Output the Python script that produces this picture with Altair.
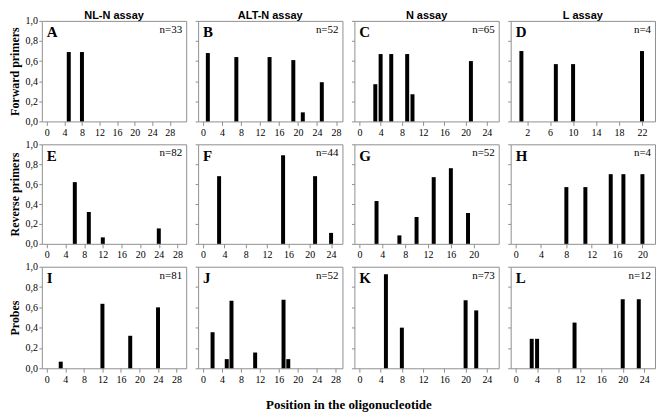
import altair as alt
import pandas as pd

assays = ["NL-N assay", "ALT-N assay", "N assay", "L assay"]
row_titles = ["Forward primers", "Reverse primers", "Probes"]
letters = ["A", "B", "C", "D", "E", "F", "G", "H", "I", "J", "K", "L"]
n_values = [33, 52, 65, 4, 82, 44, 52, 4, 81, 52, 73, 12]

pos_A = [5, 8]
val_A = [0.69, 0.69]
pos_B = [1, 7, 14, 19, 21, 25]
val_B = [0.68, 0.64, 0.64, 0.61, 0.09, 0.39]
pos_C = [3, 4, 6, 9, 10, 21]
val_C = [0.37, 0.67, 0.67, 0.67, 0.27, 0.60]
pos_D = [1, 7, 10, 22]
val_D = [0.70, 0.57, 0.57, 0.70]
pos_E = [6, 9, 12, 24]
val_E = [0.62, 0.32, 0.065, 0.155]
pos_F = [3, 15, 21, 24]
val_F = [0.68, 0.89, 0.68, 0.11]
pos_G = [3, 7, 10, 13, 16, 19]
val_G = [0.43, 0.085, 0.27, 0.67, 0.76, 0.31]
pos_H = [8, 11, 15, 17, 20]
val_H = [0.57, 0.57, 0.70, 0.70, 0.70]
pos_I = [3, 12, 18, 24]
val_I = [0.065, 0.635, 0.32, 0.60]
pos_J = [2, 5, 6, 11, 17, 18]
val_J = [0.355, 0.09, 0.665, 0.155, 0.675, 0.09]
pos_K = [5, 8, 20, 22]
val_K = [0.925, 0.40, 0.67, 0.57]
pos_L = [3, 4, 11, 20, 23]
val_L = [0.29, 0.29, 0.45, 0.68, 0.68]

positions = [pos_A, pos_B, pos_C, pos_D, pos_E, pos_F, pos_G, pos_H, pos_I, pos_J, pos_K, pos_L]
values = [val_A, val_B, val_C, val_D, val_E, val_F, val_G, val_H, val_I, val_J, val_K, val_L]

x_max = [30.6, 28.3, 25.3, 23.4, 28.8, 25.2, 23.5, 21.2, 29.0, 28.4, 25.3, 25.1]
ticks_0_28 = [0, 4, 8, 12, 16, 20, 24, 28]
ticks_0_24 = [0, 4, 8, 12, 16, 20, 24]
ticks_0_20 = [0, 4, 8, 12, 16, 20]
ticks_2_22 = [2, 6, 10, 14, 18, 22]
x_ticks = [ticks_0_28, ticks_0_28, ticks_0_24, ticks_2_22,
           ticks_0_28, ticks_0_24, ticks_0_20, ticks_0_20,
           ticks_0_28, ticks_0_28, ticks_0_24, ticks_0_24]
y_ticks = [0, 0.2, 0.4, 0.6, 0.8, 1.0]

W = 145
row_heights = [101, 100, 102]
FRAME = "#8f8f8f"
SERIF = "Liberation Serif"
SANS = "Liberation Sans"


def panel(i):
    r, c = divmod(i, 4)
    h = row_heights[r]
    df = pd.DataFrame({"pos": positions[i], "val": values[i]})
    xaxis = alt.Axis(values=x_ticks[i], title=None, labelFlush=False, labelOverlap=False,
                     tickSize=4, labelPadding=2, labelFont=SERIF, labelFontSize=10,
                     labelColor="black", domain=False, grid=False, tickColor=FRAME)
    if c == 0:
        yaxis = alt.Axis(values=y_ticks, title=row_titles[r], titleFont=SERIF,
                         titleFontSize=12, titleFontWeight="bold", titleColor="black",
                         titlePadding=3,
                         labelExpr="replace(format(datum.value, '.1f'), '.', ',')",
                         labelFont=SERIF, labelFontSize=10, labelColor="black",
                         labelPadding=1.5, tickSize=3, tickColor=FRAME,
                         domain=False, grid=False)
    else:
        yaxis = alt.Axis(values=y_ticks, title=None, labels=False, tickSize=3,
                         tickColor=FRAME, domain=False, grid=False)
    bars = alt.Chart(df).mark_bar(size=4, color="black").encode(
        x=alt.X("pos:Q", scale=alt.Scale(domain=[0, x_max[i]], nice=False, zero=False), axis=xaxis),
        y=alt.Y("val:Q", scale=alt.Scale(domain=[0, 1], nice=False), axis=yaxis),
    )
    lab = alt.Chart(pd.DataFrame({"t": [letters[i]]})).mark_text(
        align="left", baseline="alphabetic", font=SERIF, fontWeight="bold",
        fontSize=15, color="black"
    ).encode(x=alt.value(5), y=alt.value(16.5), text="t:N")
    nt = alt.Chart(pd.DataFrame({"t": [f"n={n_values[i]}"]})).mark_text(
        align="right", baseline="alphabetic", font=SERIF, fontSize=11, color="black"
    ).encode(x=alt.value(W - 4), y=alt.value(12), text="t:N")
    layers = [bars, lab, nt]
    if r == 0:
        ttl = alt.Chart(pd.DataFrame({"t": [assays[c]]})).mark_text(
            align="center", baseline="alphabetic", font=SANS, fontSize=11,
            fontWeight="bold", color="black"
        ).encode(x=alt.value(W / 2), y=alt.value(-2), text="t:N")
        layers.append(ttl)
    return alt.layer(*layers).properties(width=W, height=h)


panels = [panel(i) for i in range(12)]

chart = alt.concat(*panels, columns=4, spacing={"row": 23, "column": 12},
                   bounds="flush").properties(
    title=alt.TitleParams("Position in the oligonucleotide", orient="bottom",
                          font=SERIF, fontSize=13, fontWeight="bold", color="black",
                          anchor="middle", offset=14, dx=17),
    padding={"left": 0, "top": 0, "right": 0, "bottom": 0},
).configure_view(stroke=FRAME, strokeWidth=1)

chart.save("out.html", embed_options={"renderer": "svg", "actions": False})
